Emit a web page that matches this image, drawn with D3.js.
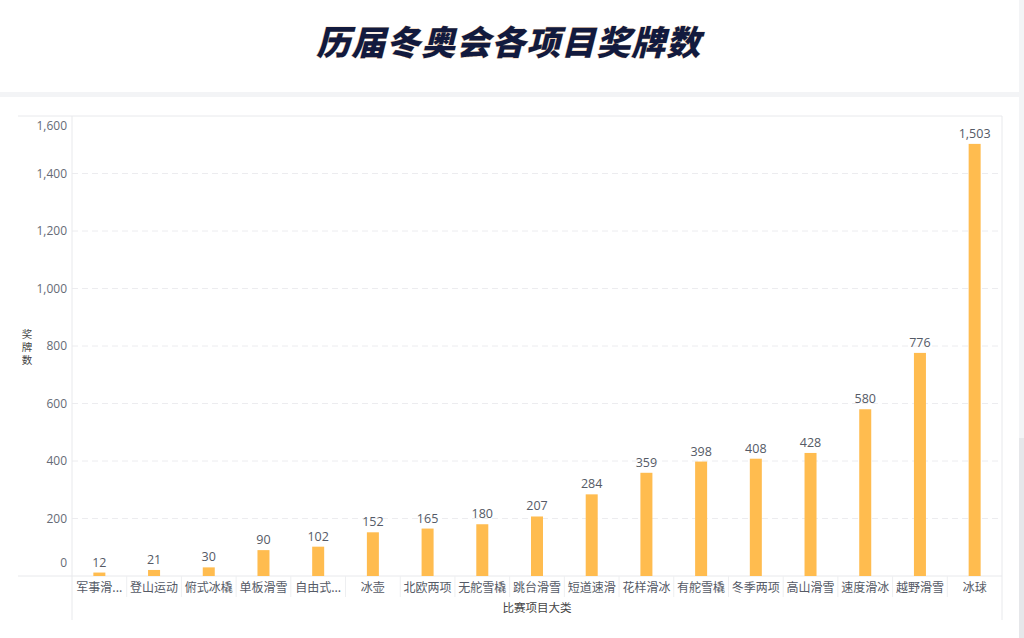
<!DOCTYPE html>
<html><head><meta charset="utf-8">
<script src="https://cdn.jsdelivr.net/npm/d3@7"></script>
<style>
html,body{margin:0;padding:0;background:#f3f4f6;}
svg{display:block;font-family:"Noto Sans CJK SC","Noto Sans",sans-serif;}
</style></head>
<body>
<svg id="c" width="1024" height="638"></svg>
<script>
const titleText = "历届冬奥会各项目奖牌数";
const categories = ["军事滑...","登山运动","俯式冰橇","单板滑雪","自由式...","冰壶","北欧两项","无舵雪橇","跳台滑雪","短道速滑","花样滑冰","有舵雪橇","冬季两项","高山滑雪","速度滑冰","越野滑雪","冰球"];
const medals = [12,21,30,90,102,152,165,180,207,284,359,398,408,428,580,776,1503];
const yTicks = [0,200,400,600,800,1000,1200,1400,1600];
const xTitle = "比赛项目大类";
const yTitle = "奖牌数";

const svg = d3.select("#c");
// panels
svg.append("rect").attr("x",0).attr("y",0).attr("width",1019).attr("height",92).attr("fill","#fff");
svg.append("rect").attr("x",0).attr("y",97).attr("width",1019).attr("height",541).attr("fill","#fff");
svg.append("rect").attr("x",1019).attr("y",438).attr("width",5).attr("height",200).attr("fill","#e6e7ea");

// title
svg.append("text").attr("x",512).attr("y",55).attr("text-anchor","middle")
  .attr("transform","translate(512,42) skewX(-14) translate(-512,-42)")
  .attr("font-size",34).attr("font-weight",900).attr("fill","#121a3e")
  .attr("stroke","#f0c9a0").attr("stroke-width",0.6).attr("paint-order","stroke")
  .attr("letter-spacing",1)
  .text(titleText);

const L=72,R=1002,T=116,B=576;
const x = d3.scaleBand().domain(categories).range([L,R]).paddingInner(0).paddingOuter(0);
const y = d3.scaleLinear().domain([0,1600]).range([B,T]);

// gridlines
svg.append("g").selectAll("line").data(yTicks.filter(t=>t>0&&t<1600)).join("line")
  .attr("x1",L).attr("x2",R).attr("y1",d=>y(d)).attr("y2",d=>y(d))
  .attr("stroke","#ececef").attr("stroke-dasharray","6,4");

// frame lines
const lc="#e8e9ec";
svg.append("line").attr("x1",18).attr("x2",R).attr("y1",T).attr("y2",T).attr("stroke",lc);
svg.append("line").attr("x1",18).attr("x2",R).attr("y1",B).attr("y2",B).attr("stroke",lc);
svg.append("line").attr("x1",L).attr("x2",L).attr("y1",T).attr("y2",620).attr("stroke",lc);
svg.append("line").attr("x1",R).attr("x2",R).attr("y1",T).attr("y2",620).attr("stroke",lc);
// category separators
svg.append("g").selectAll("line").data(categories.slice(1)).join("line")
  .attr("x1",d=>x(d)).attr("x2",d=>x(d)).attr("y1",B).attr("y2",597).attr("stroke","#eeeff1");

// y tick labels
svg.append("g").selectAll("text").data(yTicks).join("text")
  .attr("x",67).attr("y",d=> d===0? y(d)-13 : d===1600 ? y(d)+10 : y(d))
  .attr("dy","0.35em").attr("text-anchor","end")
  .attr("font-size",12).attr("fill","#666b76")
  .attr("font-family","'Open Sans','Noto Sans',sans-serif")
  .text(d3.format(","));

// bars
svg.append("g").selectAll("rect").data(medals).join("rect")
  .attr("x",(d,i)=>x(categories[i])+x.bandwidth()/2-6)
  .attr("width",12)
  .attr("y",d=>y(d)).attr("height",d=>B-y(d))
  .attr("fill","#ffbc4f");

// value labels
svg.append("g").selectAll("text").data(medals).join("text")
  .attr("x",(d,i)=>x(categories[i])+x.bandwidth()/2)
  .attr("y",d=>y(d)-6).attr("text-anchor","middle")
  .attr("font-size",12.5).attr("fill","#555a66")
  .attr("font-family","'Open Sans','Noto Sans',sans-serif")
  .text(d3.format(","));

// x labels
svg.append("g").selectAll("text").data(categories).join("text")
  .attr("x",d=>x(d)+x.bandwidth()/2).attr("y",588).attr("dy","0.35em")
  .attr("text-anchor","middle").attr("font-size",12).attr("fill","#555a66")
  .text(d=>d);

// axis titles
svg.append("text").attr("x",(L+R)/2).attr("y",608).attr("dy","0.35em").attr("text-anchor","middle")
  .attr("font-size",11.5).attr("fill","#444").text(xTitle);
const yt = svg.append("text").attr("text-anchor","middle").attr("font-size",10.5).attr("fill","#444");
yTitle.split("").forEach((ch,i)=>{
  yt.append("tspan").attr("x",27).attr("y",334+i*13).attr("dy","0.35em").text(ch);
});
</script>
</body></html>
